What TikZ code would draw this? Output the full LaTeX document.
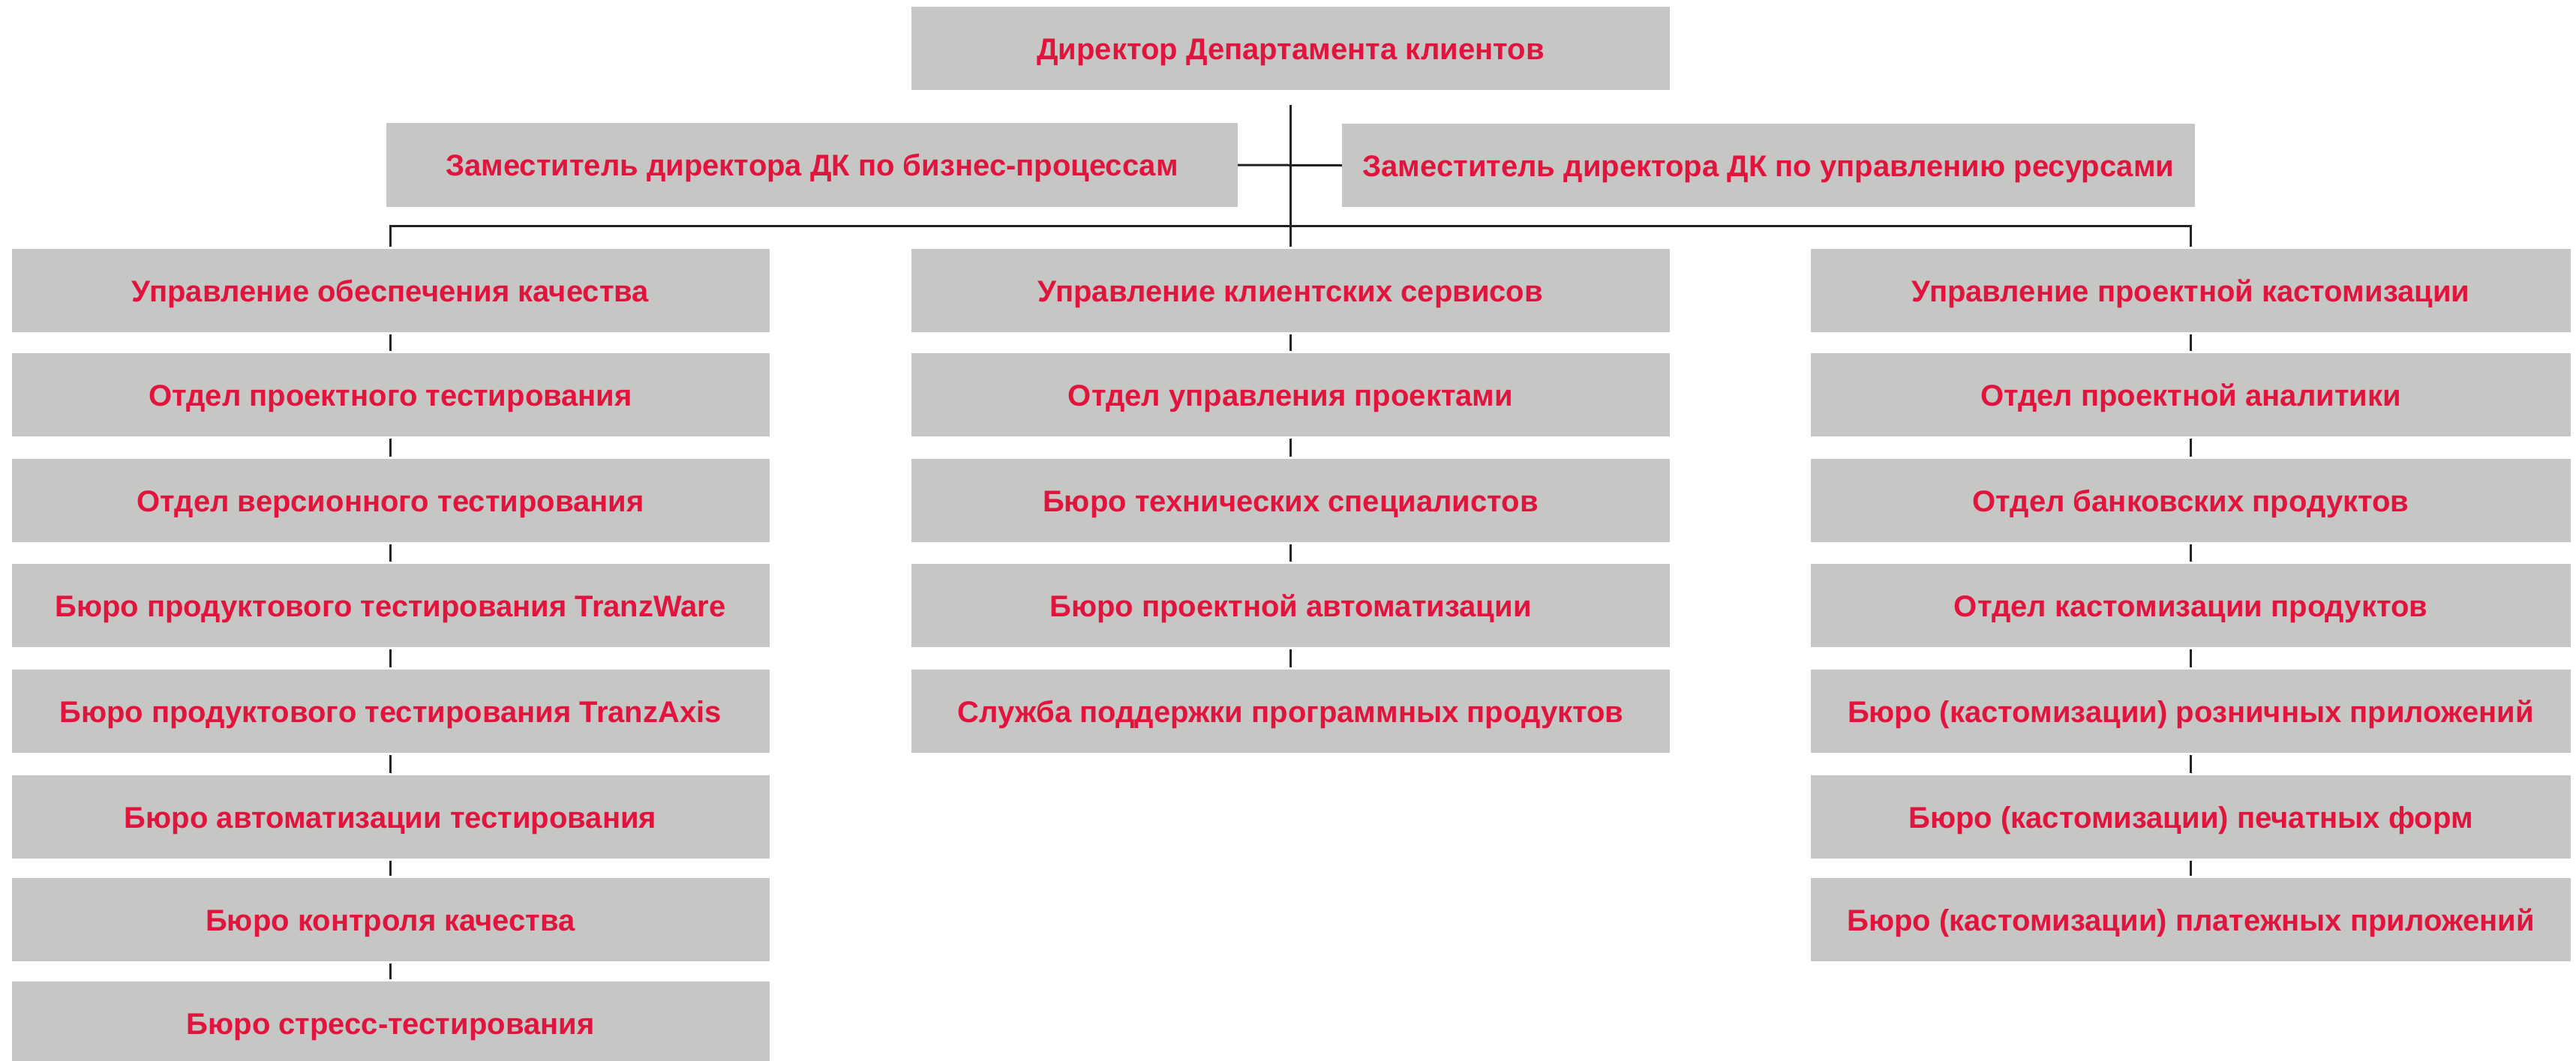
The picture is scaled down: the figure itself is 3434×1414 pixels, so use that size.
\documentclass[tikz,border=0pt]{standalone}
\usepackage{fontspec}
\setmainfont{Liberation Sans}
\definecolor{boxgray}{HTML}{C6C6C4}
\definecolor{txtred}{HTML}{E0143C}
\definecolor{linec}{HTML}{222222}
\begin{document}
\begin{tikzpicture}[x=1pt,y=-1pt,
  unit/.style={fill=boxgray, draw=none, inner sep=0pt, minimum width=1010pt, minimum height=111pt,
    font=\fontsize{40}{42}\selectfont\bfseries, text=txtred, text height=29pt, text depth=0pt, align=center},
  conn/.style={draw=linec, line width=3pt},
  link/.style={conn, line cap=butt}]
\fill[white] (0,0) rectangle (3434,1414);
\useasboundingbox (0,0) rectangle (3434,1414);

\node[unit, minimum width=1011pt] (dir) at (1720.5,64.5) {Директор Департамента клиентов};
\node[unit, minimum width=1135pt, minimum height=112pt] (zl) at (1082.5,220) {Заместитель директора ДК по бизнес-процессам};
\node[unit, minimum width=1137pt] (zr) at (2357.5,220.5) {Заместитель директора ДК по управлению ресурсами};

% left column
\node[unit] (l1) at (520.5,387.5) {Управление обеспечения качества};
\node[unit] (l2) at (520.5,526.5) {Отдел проектного тестирования};
\node[unit] (l3) at (520.5,667.5) {Отдел версионного тестирования};
\node[unit] (l4) at (520.5,807.5) {Бюро продуктового тестирования TranzWare};
\node[unit] (l5) at (520.5,948.5) {Бюро продуктового тестирования TranzAxis};
\node[unit] (l6) at (520.5,1089.5) {Бюро автоматизации тестирования};
\node[unit] (l7) at (520.5,1226.5) {Бюро контроля качества};
\node[unit] (l8) at (520.5,1364.5) {Бюро стресс-тестирования};

% middle column
\node[unit, minimum width=1011pt] (m1) at (1720.5,387.5) {Управление клиентских сервисов};
\node[unit, minimum width=1011pt] (m2) at (1720.5,526.5) {Отдел управления проектами};
\node[unit, minimum width=1011pt] (m3) at (1720.5,667.5) {Бюро технических специалистов};
\node[unit, minimum width=1011pt] (m4) at (1720.5,807.5) {Бюро проектной автоматизации};
\node[unit, minimum width=1011pt] (m5) at (1720.5,948.5) {Служба поддержки программных продуктов};

% right column
\node[unit, minimum width=1013pt] (r1) at (2920.5,387.5) {Управление проектной кастомизации};
\node[unit, minimum width=1013pt] (r2) at (2920.5,526.5) {Отдел проектной аналитики};
\node[unit, minimum width=1013pt] (r3) at (2920.5,667.5) {Отдел банковских продуктов};
\node[unit, minimum width=1013pt] (r4) at (2920.5,807.5) {Отдел кастомизации продуктов};
\node[unit, minimum width=1013pt] (r5) at (2920.5,948.5) {Бюро (кастомизации) розничных приложений};
\node[unit, minimum width=1013pt] (r6) at (2920.5,1089.5) {Бюро (кастомизации) печатных форм};
\node[unit, minimum width=1013pt] (r7) at (2920.5,1226.5) {Бюро (кастомизации) платежных приложений};

% main connectors
\draw[link] ([yshift=-20pt]dir.south) -- ([yshift=3pt]m1.north);
\draw[link] (zl.east) -- (zr.west);
\draw[link, line join=miter] ([yshift=3pt]l1.north) -- ([yshift=30pt]l1.north) -- ([yshift=30pt]r1.north) -- ([yshift=3pt]r1.north);

% column connectors
\foreach \a/\b in {l1/l2,l2/l3,l3/l4,l4/l5,l5/l6,l6/l7,l7/l8,
                   m1/m2,m2/m3,m3/m4,m4/m5,
                   r1/r2,r2/r3,r3/r4,r4/r5,r5/r6,r6/r7}
  \draw[link] ([yshift=-3pt]\a.south) -- ([yshift=3pt]\b.north);
\end{tikzpicture}
\end{document}
